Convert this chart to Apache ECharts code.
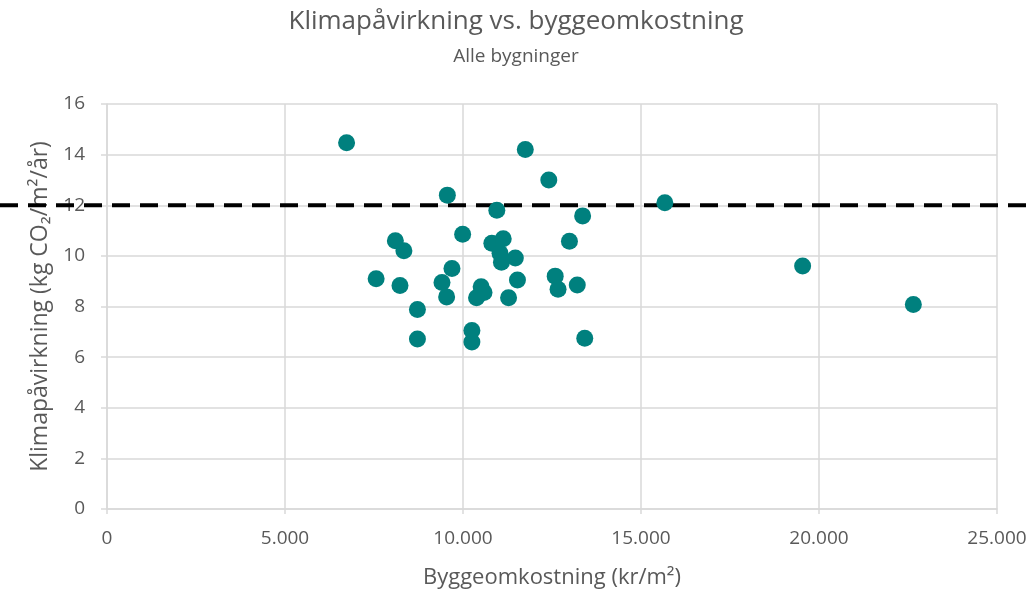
<!DOCTYPE html>
<html>
<head>
<meta charset="utf-8">
<script src="https://cdn.jsdelivr.net/npm/echarts@6/dist/echarts.min.js"></script>
<style>html,body{margin:0;padding:0;background:#fff}#c{width:1032px;height:599px}</style>
</head>
<body>
<div id="c"></div>
<script>
const titleText = 'Klimapåvirkning vs. byggeomkostning';
const subtitleText = 'Alle bygninger';
const xName = 'Byggeomkostning (kr/m²)';
const yName = 'Klimapåvirkning (kg CO₂/m²/år)';
const costs = [6730, 11750, 12410, 9560, 10950, 13360, 9990, 8100, 8340, 10810, 11130, 11040, 11080, 11470, 12990,
  9690, 7560, 8230, 9410, 9540, 10510, 10590, 10380, 11280, 11530, 12590, 12670, 13210, 8720, 8720, 10250, 10250,
  13420, 15670, 19540, 22650];
const climate = [14.47, 14.2, 13.0, 12.4, 11.8, 11.58, 10.85, 10.6, 10.2, 10.5, 10.68, 10.1, 9.75, 9.92, 10.58,
  9.5, 9.1, 8.83, 8.95, 8.38, 8.78, 8.55, 8.35, 8.35, 9.05, 9.2, 8.68, 8.85, 7.88, 6.72, 7.05, 6.6,
  6.75, 12.1, 9.6, 8.08];
const threshold = 12;
const xTicks = [0, 5000, 10000, 15000, 20000, 25000];
const yTicks = [0, 2, 4, 6, 8, 10, 12, 14, 16];

const points = costs.map((c, i) => [c, climate[i]]);
const fmt = v => String(v).replace(/\B(?=(\d{3})+(?!\d))/g, '.');
const gray = '#595959';
const lineGray = '#d9d9d9';
const font = 'Open Sans';

const chart = echarts.init(document.getElementById('c'), null, {renderer: 'canvas'});
chart.setOption({
  animation: false,
  backgroundColor: '#fff',
  textStyle: {fontFamily: font},
  title: {
    text: titleText,
    subtext: subtitleText,
    left: 'center',
    top: 4,
    itemGap: 12,
    textStyle: {fontFamily: font, fontSize: 26, fontWeight: 'normal', color: gray},
    subtextStyle: {fontFamily: font, fontSize: 19, color: gray}
  },
  grid: [
    {left: 107, right: 35, top: 104, bottom: 90},
    {left: 0, right: 0, top: 104, bottom: 90}
  ],
  xAxis: [{
    type: 'value', gridIndex: 0,
    min: xTicks[0], max: xTicks[xTicks.length - 1], interval: 5000,
    name: xName, nameLocation: 'middle', nameGap: 58,
    nameTextStyle: {fontFamily: font, fontSize: 22, color: gray},
    axisLine: {show: true, lineStyle: {color: lineGray, width: 1.5}},
    axisTick: {show: true, length: 5, lineStyle: {color: lineGray, width: 1.5}},
    axisLabel: {fontFamily: font, fontSize: 19, color: gray, margin: 20, formatter: fmt},
    splitLine: {show: true, lineStyle: {color: lineGray, width: 1.5}}
  }, {
    type: 'value', gridIndex: 1, min: 0, max: 1, show: false
  }],
  yAxis: [{
    type: 'value', gridIndex: 0,
    min: yTicks[0], max: yTicks[yTicks.length - 1], interval: 2,
    name: yName, nameLocation: 'middle', nameGap: 54,
    nameTextStyle: {fontFamily: font, fontSize: 23, color: gray},
    axisLine: {show: true, lineStyle: {color: lineGray, width: 1.5}},
    axisTick: {show: true, length: 6, lineStyle: {color: lineGray, width: 1.5}},
    axisLabel: {fontFamily: font, fontSize: 19, color: gray, margin: 22},
    splitLine: {show: true, lineStyle: {color: lineGray, width: 1.5}}
  }, {
    type: 'value', gridIndex: 1, min: 0, max: 16, show: false
  }],
  series: [{
    type: 'line',
    xAxisIndex: 1, yAxisIndex: 1,
    data: [[0, threshold], [1, threshold]],
    symbol: 'none',
    silent: true,
    z: 3,
    lineStyle: {color: '#000', width: 4, type: [18, 10]}
  }, {
    type: 'scatter',
    xAxisIndex: 0, yAxisIndex: 0,
    data: points,
    symbol: 'circle',
    symbolSize: 17,
    z: 4,
    itemStyle: {color: '#00807e', opacity: 1}
  }]
});
</script>
</body>
</html>
